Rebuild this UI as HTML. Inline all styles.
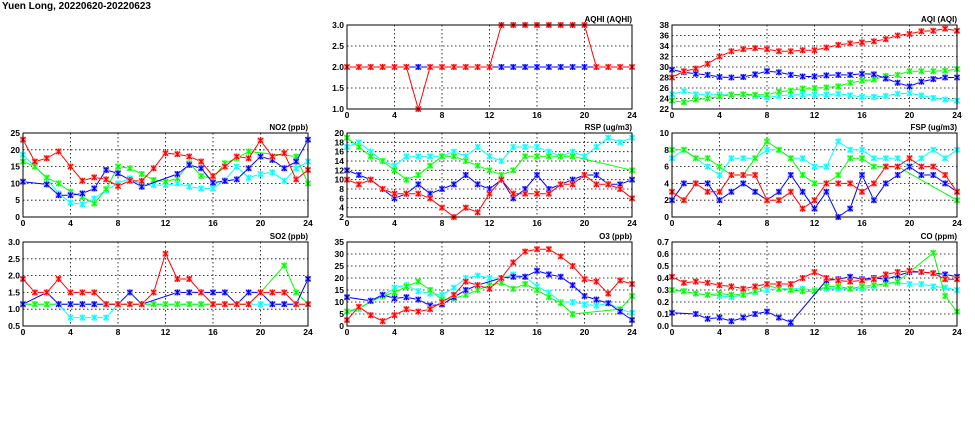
<!DOCTYPE html>
<html><head><meta charset="utf-8">
<style>
html,body{margin:0;padding:0;background:#fff;}
svg{display:block;font-family:"Liberation Sans",sans-serif;}
</style></head>
<body>
<svg id="chart" width="975" height="447" viewBox="0 0 975 447" xmlns="http://www.w3.org/2000/svg">
<text x="2" y="9" font-size="10" font-weight="bold" fill="#000">Yuen Long, 20220620-20220623</text>
</svg>
<script>
const hours = [0,1,2,3,4,5,6,7,8,9,10,11,12,13,14,15,16,17,18,19,20,21,22,23,24];
const xTicks = [0,4,8,12,16,20,24];
const N = null;

const aqhiRed   = [2,2,2,2,2,2,1,2,2,2,2,2,2,3,3,3,3,3,3,3,3,2,2,2,2];
const aqhiBlue  = [2,2,2,2,2,2,2,2,2,2,2,2,2,2,2,2,2,2,2,2,2,2,2,2,2];
const aqhiGreen = [2,2,2,2,2,2,2,2,2,2,2,2,2,2,2,2,2,2,2,2,2,2,2,2,2];
const aqhiCyan  = [2,2,2,2,2,2,2,2,2,2,2,2,2,2,2,2,2,2,2,2,2,2,2,2,2];
const aqhiTicks = [1.0,1.5,2.0,2.5,3.0];

const aqiRed   = [28,29.2,29.7,30.6,32,33,33.4,33.6,33.4,33,33,33.2,33.2,33.7,34.2,34.5,34.7,34.9,35.3,36,36.3,36.8,36.9,37.3,36.9];
const aqiBlue  = [29.5,29,28.7,28.5,28.1,28,28.1,28.6,29.2,29,28.5,28.2,28.2,28.4,28.5,28.5,28.7,28.6,27.8,27,26.3,27.2,27.7,28,28];
const aqiGreen = [23.6,23.3,23.8,24,24.4,24.7,24.8,24.7,24.7,25.3,25.5,25.9,26,26.1,26.3,27,27.4,27.6,28.3,28.5,29.2,29.2,29.2,29.3,29.6];
const aqiCyan  = [24.8,25.4,24.8,24.8,24.8,24.8,24.7,24.5,24.2,24.5,24.7,24.7,24.7,24.7,24.9,24.6,24.3,24.3,24.5,24.9,25,24.6,24.1,23.8,23.6];
const aqiTicks = [22,24,26,28,30,32,34,36,38];

const no2Red   = [23,16.5,17.5,19.5,15,10.8,11.8,11.2,9.2,10.8,10.7,14.5,19,18.7,18,16.5,12.2,15,18,17.5,22.8,18,19,11.2,14];
const no2Blue  = [10.5,N,9.7,6.5,6.5,7,8.5,14,13,11,9,N,N,12.8,15.5,14.5,10.2,10.7,11.2,14.5,18,17,14.5,16.5,23];
const no2Green = [16.5,15,11.7,10,7.5,6,4,8.3,15,14.5,12.8,11,10.5,11.5,16,12.2,11.5,16,17.5,19.5,N,N,N,18,10];
const no2Cyan  = [18.5,15,11.5,7,4.3,3.8,5.5,8,10,11.5,9.5,9.5,9.5,10,9,8.5,8.5,11,15,11.7,12.8,13.3,10.8,14.5,16.5];
const no2Ticks = [0,5,10,15,20,25];

const rspRed   = [10,9,10,8,7,7,7,6,4,2,4,3,7,10,7,7,7,7,9,9,11,9,9,8,6];
const rspBlue  = [12,11,10,8,6,7,9,7,8,9,11,9,8,10,6,8,11,8,9,10,11,11,9,9,10];
const rspGreen = [19,17,15,14,12,10,11,13,15,15,14,13,12,11,12,15,15,15,15,15,N,N,N,N,12];
const rspCyan  = [17,18,16,14,13,15,15,15,15,16,15,17,15,14,17,17,17,16,15,16,15,17,19,18,19];
const rspTicks = [2,4,6,8,10,12,14,16,18,20];

const fspRed   = [3,2,4,3,3,5,5,5,2,2,3,1,2,4,4,4,3,4,6,6,7,6,6,5,3];
const fspBlue  = [2,4,4,4,2,3,4,3,2,3,5,3,1,3,0,1,5,2,4,5,6,5,5,4,3];
const fspGreen = [8,8,7,7,6,5,5,7,9,8,7,5,4,4,5,7,7,6,6,6,N,N,N,N,2];
const fspCyan  = [7,8,7,6,5,7,7,7,8,8,7,7,6,6,9,8,8,7,7,7,6,7,8,7,8];
const fspTicks = [0,2,4,6,8,10];

const so2Red   = [1.9,1.5,1.5,1.9,1.5,1.5,1.5,1.15,1.15,1.15,1.15,1.5,2.65,1.9,1.9,1.5,1.15,1.15,1.15,1.15,1.5,1.5,1.5,1.15,1.15];
const so2Blue  = [1.15,N,1.5,1.15,1.15,1.15,1.15,1.15,1.15,1.5,1.15,N,N,1.5,1.5,1.5,1.5,1.5,1.15,1.5,1.5,1.15,1.15,1.15,1.9];
const so2Green = [1.15,1.15,1.15,1.15,1.15,1.15,1.15,1.15,1.15,1.15,1.15,1.15,1.15,1.15,1.15,1.15,1.15,1.15,1.15,1.15,1.5,N,2.3,1.5,1.15];
const so2Cyan  = [1.15,1.15,1.15,1.15,0.75,0.75,0.75,0.75,1.15,1.15,1.15,1.15,1.15,1.15,1.15,1.15,1.15,1.15,1.15,1.15,1.15,1.15,1.15,1.15,1.15];
const so2Ticks = [0.5,1.0,1.5,2.0,2.5,3.0];

const o3Red   = [2.5,8,4.5,2,4.5,7,6,7,10,13,18.5,17,15.5,20,26.5,31,32,32,29,25,19.5,18.5,13.5,19,17.5];
const o3Blue  = [12,N,10.5,13,11.5,12,11,8.5,9,12,15,17,N,20,20.5,20.5,23,21.5,20.5,17,12.5,11,9.5,6,2.5];
const o3Green = [6,7.5,N,12.5,14,16.5,18.5,15,11,11.5,13,15,17,18,15.5,17.5,15,12,9.5,5,N,N,N,7,12.5];
const o3Cyan  = [6,7,10.5,12.5,16,17,14.5,13.5,13,16,20,21,20,20,21.5,20.5,16.5,14,10,10,9,8.5,9.5,7,5.5];
const o3Ticks = [0,5,10,15,20,25,30,35];

const coRed   = [.41,.36,.37,.36,.34,.33,.31,.33,.35,.35,.35,.40,.45,.40,.38,.37,.38,.39,.43,.45,.46,.45,.44,.39,.39];
const coBlue  = [.11,N,.10,.06,.07,.04,.07,.10,.12,.07,.03,N,N,.38,.39,.41,.39,.40,.39,.42,.45,.45,.44,.43,.41];
const coGreen = [.30,.29,.27,.26,.27,.26,.26,.29,.34,.31,.30,.29,.29,.33,.33,.31,.33,.34,.35,.37,N,N,.61,.25,.12];
const coCyan  = [.30,.29,.27,.26,.25,.24,.26,.28,.30,.31,.31,.31,.30,.31,.31,.31,.31,.33,.36,.36,.35,.35,.33,.32,.30];
const coTicks = [0.0,0.1,0.2,0.3,0.4,0.5,0.6,0.7];

const svg = document.getElementById('chart');
const NS = 'http://www.w3.org/2000/svg';
function mk(tag, attrs){const e=document.createElementNS(NS,tag);for(const k in attrs)e.setAttribute(k,attrs[k]);return e;}

const colors = {cyan:'#00ffff', green:'#00ff00', blue:'#0000ff', red:'#ff0000'};
const light = {cyan:'#aaffff', green:'#aaffaa', blue:'#aaaaff', red:'#ffaaaa'};

function panel(name, title, x0, y0, w, h, ticks, decimals, series){
  const yMin = ticks[0], yMax = ticks[ticks.length-1];
  const xs = v => x0 + v/24*w;
  const ys = v => y0 + h - (v-yMin)/(yMax-yMin)*h;
  const g = mk('g',{});
  
  
  svg.appendChild(g);
  const t = mk('text',{x:x0+w, y:y0-3, 'text-anchor':'end','font-size':'8','font-weight':'bold'});
  
  
  t.textContent = title; g.appendChild(t);
  ticks.forEach(v=>{
    const y = ys(v);
    if(v!==yMin && v!==yMax){
      const l = mk('line',{x1:x0,x2:x0+w,y1:y,y2:y,stroke:'#000','stroke-width':'0.8','stroke-dasharray':'1.5,2.5'});
      
      
      g.appendChild(l);
    }
    const tl = mk('text',{x:x0-3,y:y+3,'text-anchor':'end','font-size':'8.5','font-weight':'bold'});
    
    
    tl.textContent = v.toFixed(decimals); g.appendChild(tl);
  });
  xTicks.forEach(v=>{
    const x = xs(v);
    if(v!==0 && v!==24){
      const l = mk('line',{x1:x,x2:x,y1:y0,y2:y0+h,stroke:'#000','stroke-width':'0.8','stroke-dasharray':'1.5,2.5'});
      
      
      g.appendChild(l);
    }
    const tl = mk('text',{x:x,y:y0+h+9,'text-anchor':'middle','font-size':'8.5','font-weight':'bold'});
    
    
    tl.textContent = v; g.appendChild(tl);
  });
  series.forEach(([key, vals])=>{
    const pts = [];
    vals.forEach((v,i)=>{ if(v!==null) pts.push([xs(hours[i]), ys(Math.min(Math.max(v,yMin),yMax))]); });
    const pl = mk('polyline',{points:pts.map(p=>p[0].toFixed(1)+','+p[1].toFixed(1)).join(' '),fill:'none',stroke:colors[key],'stroke-width':'1'});
    
    
    g.appendChild(pl);
    pts.forEach(p=>{
      const m = mk('g',{});
      
      
      m.appendChild(mk('rect',{x:p[0]-3,y:p[1]-3,width:6,height:6,fill:light[key]}));
      m.appendChild(mk('path',{d:`M${p[0]-2.5},${p[1]-2.5}L${p[0]+2.5},${p[1]+2.5}M${p[0]-2.5},${p[1]+2.5}L${p[0]+2.5},${p[1]-2.5}M${p[0]},${p[1]-3}L${p[0]},${p[1]+3}`,stroke:colors[key],'stroke-width':'1.2'}));
      g.appendChild(m);
    });
  });
  const fr = mk('rect',{x:x0,y:y0,width:w,height:h,fill:'none',stroke:'#000','stroke-width':'1'});
  
  
  g.appendChild(fr);
}

const C1=23, C2=347, C3=672, W=285, H=84;
panel('aqhi','AQHI (AQHI)',C2,25,W,H,aqhiTicks,1,[['cyan',aqhiCyan],['green',aqhiGreen],['blue',aqhiBlue],['red',aqhiRed]]);
panel('aqi','AQI (AQI)',C3,25,W,H,aqiTicks,0,[['cyan',aqiCyan],['green',aqiGreen],['blue',aqiBlue],['red',aqiRed]]);
panel('no2','NO2 (ppb)',C1,133,W,H,no2Ticks,0,[['cyan',no2Cyan],['green',no2Green],['blue',no2Blue],['red',no2Red]]);
panel('rsp','RSP (ug/m3)',C2,133,W,H,rspTicks,0,[['cyan',rspCyan],['green',rspGreen],['blue',rspBlue],['red',rspRed]]);
panel('fsp','FSP (ug/m3)',C3,133,W,H,fspTicks,0,[['cyan',fspCyan],['green',fspGreen],['blue',fspBlue],['red',fspRed]]);
panel('so2','SO2 (ppb)',C1,242,W,H,so2Ticks,1,[['cyan',so2Cyan],['green',so2Green],['blue',so2Blue],['red',so2Red]]);
panel('o3','O3 (ppb)',C2,242,W,H,o3Ticks,0,[['cyan',o3Cyan],['green',o3Green],['blue',o3Blue],['red',o3Red]]);
panel('co','CO (ppm)',C3,242,W,H,coTicks,1,[['cyan',coCyan],['green',coGreen],['blue',coBlue],['red',coRed]]);
</script>
</body></html>
